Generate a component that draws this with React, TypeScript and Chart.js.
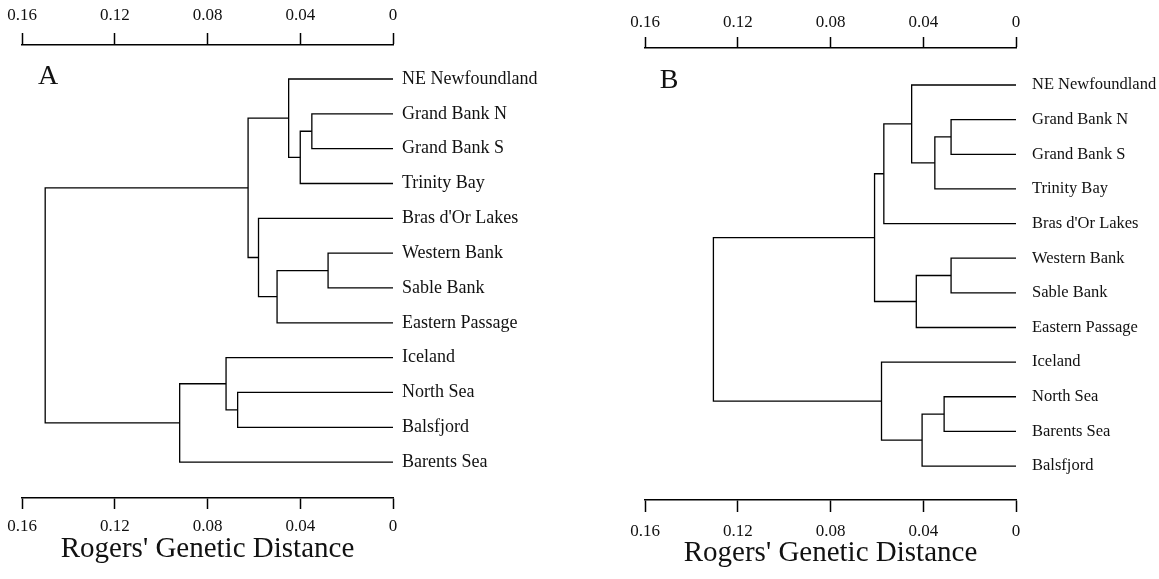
import React, { useEffect, useRef } from "react";
import { Chart, registerables } from "chart.js";

Chart.register(...registerables);

// ---- data ----
const axisTitle = "Rogers' Genetic Distance";
const distanceMin = 0;
const distanceMax = 0.16;
const distanceStep = 0.04;

const leavesA = [
  "NE Newfoundland",
  "Grand Bank N",
  "Grand Bank S",
  "Trinity Bay",
  "Bras d'Or Lakes",
  "Western Bank",
  "Sable Bank",
  "Eastern Passage",
  "Iceland",
  "North Sea",
  "Balsfjord",
  "Barents Sea",
];
// [child, child, height]; new nodes are numbered after the leaves
const mergesA: [number, number, number][] = [
  [1, 2, 0.035],
  [12, 3, 0.04],
  [0, 13, 0.045],
  [5, 6, 0.028],
  [15, 7, 0.05],
  [4, 16, 0.058],
  [14, 17, 0.0625],
  [9, 10, 0.067],
  [8, 19, 0.072],
  [20, 11, 0.092],
  [18, 21, 0.15],
];

const leavesB = [
  "NE Newfoundland",
  "Grand Bank N",
  "Grand Bank S",
  "Trinity Bay",
  "Bras d'Or Lakes",
  "Western Bank",
  "Sable Bank",
  "Eastern Passage",
  "Iceland",
  "North Sea",
  "Barents Sea",
  "Balsfjord",
];
const mergesB: [number, number, number][] = [
  [1, 2, 0.028],
  [12, 3, 0.035],
  [0, 13, 0.045],
  [14, 4, 0.057],
  [5, 6, 0.028],
  [16, 7, 0.043],
  [15, 17, 0.061],
  [9, 10, 0.031],
  [19, 11, 0.0405],
  [8, 20, 0.058],
  [18, 21, 0.1305],
];

function buildSegments(nLeaves: number, merges: [number, number, number][]) {
  const ys: number[] = [];
  const hs: number[] = [];
  for (let i = 0; i < nLeaves; i++) {
    ys.push(i);
    hs.push(0);
  }
  return merges.map(([a, b, h]) => {
    const seg = [
      { x: hs[a], y: ys[a] },
      { x: h, y: ys[a] },
      { x: h, y: ys[b] },
      { x: hs[b], y: ys[b] },
    ];
    ys.push((ys[a] + ys[b]) / 2);
    hs.push(h);
    return seg;
  });
}

const SERIF = "'Liberation Serif', 'Times New Roman', serif";

type PanelCfg = {
  leaves: string[];
  merges: [number, number, number][];
  letter: string;
  padLeft: number;
  yWidth: number;
  topH: number;
  bottomH: number;
  yMin: number;
  yMax: number;
  topTick: number;
  topPad: number;
  bottomTick: number;
  bottomPad: number;
  titlePad: number;
  labelPad: number;
  labelSize: number;
  letterDx: number;
  letterDy: number;
};

function fmt(v: number) {
  return String(Number(Number(v).toFixed(2)));
}

function Panel({ cfg, left, width }: { cfg: PanelCfg; left: number; width: number }) {
  const ref = useRef<HTMLCanvasElement | null>(null);
  useEffect(() => {
    if (!ref.current) return;
    const segs = buildSegments(cfg.leaves.length, cfg.merges);
    const letterPlugin = {
      id: "panelLetter",
      afterDraw(chart: any) {
        const ctx = chart.ctx;
        const a = chart.chartArea;
        ctx.save();
        ctx.font = `28px ${SERIF}`;
        ctx.fillStyle = "#111";
        ctx.textAlign = "center";
        ctx.textBaseline = "alphabetic";
        ctx.fillText(cfg.letter, a.left + cfg.letterDx, a.top + cfg.letterDy);
        ctx.restore();
      },
    };
    const xCommon = (pos: string, tick: number, pad: number) => ({
      type: "linear",
      position: pos,
      reverse: true,
      min: distanceMin,
      max: distanceMax,
      offset: false,
      grid: {
        display: true,
        drawOnChartArea: false,
        drawTicks: true,
        tickLength: tick,
        tickColor: "#000",
        tickWidth: 1.5,
      },
      border: { display: true, color: "#000", width: 1.5 },
      ticks: {
        stepSize: distanceStep,
        maxRotation: 0,
        autoSkip: false,
        padding: pad,
        color: "#111",
        font: { family: SERIF, size: 17 },
        callback: (v: any) => fmt(v),
      },
    });
    const chart = new Chart(ref.current, {
      type: "scatter",
      data: {
        datasets: segs.map((s) => ({
          data: s,
          showLine: true,
          borderColor: "#000",
          borderWidth: 1.3,
          pointRadius: 0,
          pointHoverRadius: 0,
          tension: 0,
          fill: false,
          clip: false,
          xAxisID: "x",
          yAxisID: "y",
        })),
      },
      options: {
        responsive: false,
        animation: false,
        events: [],
        layout: { padding: { left: cfg.padLeft, right: 0, top: 0, bottom: 0 } },
        plugins: { legend: { display: false }, tooltip: { enabled: false } },
        scales: {
          x: {
            ...xCommon("top", cfg.topTick, cfg.topPad),
            afterFit: (s: any) => {
              s.height = cfg.topH;
            },
          },
          x2: {
            ...xCommon("bottom", cfg.bottomTick, cfg.bottomPad),
            title: {
              display: true,
              text: axisTitle,
              color: "#111",
              font: { family: SERIF, size: 29 },
              padding: { top: 0, bottom: cfg.titlePad },
            },
            afterFit: (s: any) => {
              s.height = cfg.bottomH;
            },
          },
          y: {
            type: "linear",
            position: "right",
            reverse: true,
            min: cfg.yMin,
            max: cfg.yMax,
            grid: { display: false, drawTicks: false },
            border: { display: false },
            ticks: {
              stepSize: 1,
              autoSkip: false,
              padding: cfg.labelPad,
              color: "#111",
              font: { family: SERIF, size: cfg.labelSize },
              callback: (v: any) =>
                Number.isInteger(v) && v >= 0 && v < cfg.leaves.length ? cfg.leaves[v] : "",
            },
            afterFit: (s: any) => {
              s.width = cfg.yWidth;
            },
          },
        },
      } as any,
      plugins: [letterPlugin],
    });
    return () => chart.destroy();
  }, [cfg]);
  return (
    <canvas
      ref={ref}
      width={width}
      height={579}
      style={{ position: "absolute", left, top: 0, width, height: 579, display: "block" }}
    />
  );
}

const cfgA: PanelCfg = {
  leaves: leavesA,
  merges: mergesA,
  letter: "A",
  padLeft: 22,
  yWidth: 187,
  topH: 45,
  bottomH: 81,
  yMin: -0.976,
  yMax: 12.03,
  topTick: 12,
  topPad: 7,
  bottomTick: 11,
  bottomPad: 7,
  titlePad: 12,
  labelPad: 9,
  labelSize: 18,
  letterDx: 26,
  letterDy: 39,
};

const cfgB: PanelCfg = {
  leaves: leavesB,
  merges: mergesB,
  letter: "B",
  padLeft: 65,
  yWidth: 143,
  topH: 48,
  bottomH: 79,
  yMin: -1.068,
  yMax: 11.98,
  topTick: 11,
  topPad: 4,
  bottomTick: 12,
  bottomPad: 9,
  titlePad: 8,
  labelPad: 16,
  labelSize: 16.5,
  letterDx: 24,
  letterDy: 40,
};

export default function App() {
  return (
    <div
      style={{
        position: "fixed",
        left: 0,
        top: 0,
        width: 1159,
        height: 579,
        background: "#fff",
        overflow: "hidden",
      }}
    >
      <Panel cfg={cfgA} left={0} width={580} />
      <Panel cfg={cfgB} left={580} width={579} />
    </div>
  );
}
